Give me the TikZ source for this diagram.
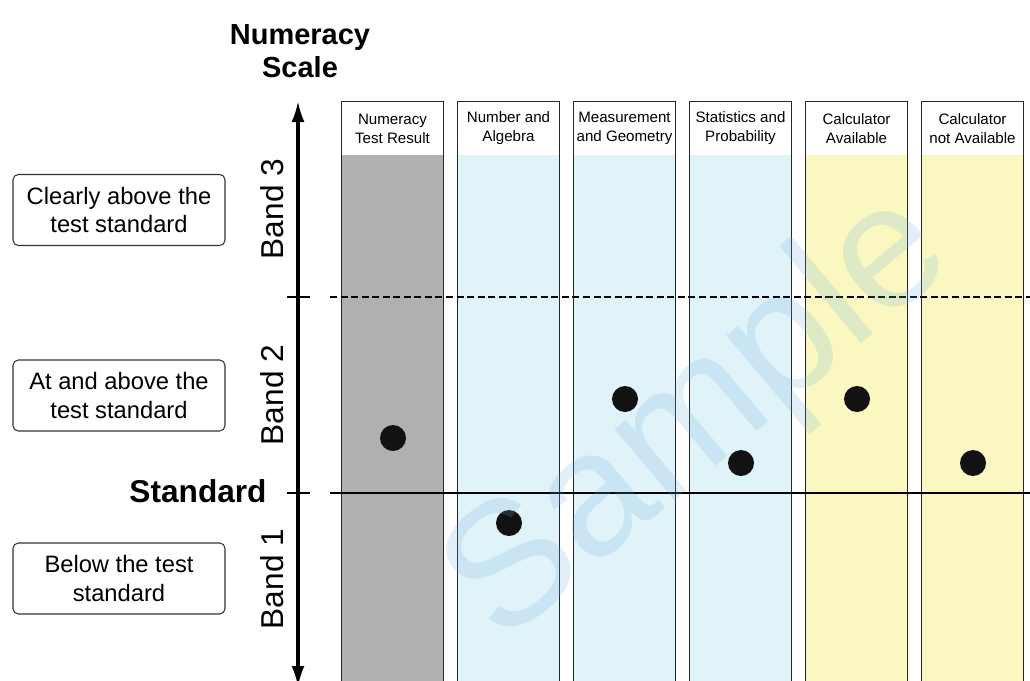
\documentclass[tikz,border=0pt]{standalone}
\usepackage{fontspec}
\setmainfont{Liberation Sans}
\usetikzlibrary{arrows.meta,positioning}

\definecolor{resultgray}{HTML}{B0B0B0}
\definecolor{strandblue}{HTML}{E0F3F8}
\definecolor{calcyellow}{HTML}{FAF8C0}
\definecolor{markblue}{RGB}{110,175,225}

\tikzstyle{header} = [
    rectangle,
    minimum width=2.02cm,
    minimum height=1.06cm,
    inner sep=0pt,
    align=center,
    fill=white,
    font=\fontsize{8.6}{10.8}\selectfont,
]
\tikzstyle{column} = [
    rectangle,
    minimum width=2.02cm,
    minimum height=10.6cm,
    inner sep=0pt,
]
\tikzstyle{outline} = [
    draw=black!85,
    line width=0.6pt
]
\tikzstyle{levelbox} = [
    rectangle,
    rounded corners=3pt,
    draw=black!80,
    line width=0.6pt,
    minimum width=4.24cm,
    minimum height=1.42cm,
    align=center,
    font=\fontsize{13.5}{16}\selectfont,
]
\tikzstyle{bandlabel} = [
    rotate=90,
    font=\fontsize{18}{20}\selectfont
]
\tikzstyle{dot} = [
    circle,
    fill=black!93,
    minimum size=0.52cm,
    inner sep=0pt
]
\tikzstyle{arrow} = [
    line width=1.8pt,
    {Latex[length=0.42cm,width=0.26cm]}-{Latex[length=0.42cm,width=0.26cm]}
]
\tikzstyle{tick} = [
    line width=1.2pt
]

\begin{document}
\begin{tikzpicture}[x=0.02cm, y=-0.02cm]
        \useasboundingbox (0,0) rectangle (1030,680);
        %% scale title and axis
        \node (title) [font=\bfseries\fontsize{16.5}{19}\selectfont, align=center] at (300,51) {Numeracy\\Scale};
        \coordinate (axistop) at (298,101);
        \coordinate (axisbot) at (298,687);
        \draw [arrow] (axisbot) -- (axistop);
        \coordinate (tick3l) at (287,297);
        \coordinate (tick3r) at (310,297);
        \coordinate (tick2l) at (287,493);
        \coordinate (tick2r) at (310,493);
        \draw [tick] (tick3l) -- (tick3r);
        \draw [tick] (tick2l) -- (tick2r);
        \node (std) [font=\bfseries\fontsize{18}{20}\selectfont] at (198,491) {Standard};
        \node (band3) [bandlabel] at (272,209) {Band 3};
        \node (band2) [bandlabel] at (272,395) {Band 2};
        \node (band1) [bandlabel] at (272,579) {Band 1};
        %% level descriptions
        \node (level3) [levelbox] at (119,210) {Clearly above the\\test standard};
        \node (level2) [levelbox] at (119,395.5) {At and above the\\test standard};
        \node (level1) [levelbox] at (119,578.5) {Below the test\\standard};
        %% columns
        \node (col1) [column, fill=resultgray] at (392.5,420) {};
        \node (col2) [column, fill=strandblue] at (508.5,420) {};
        \node (col3) [column, fill=strandblue] at (624.5,420) {};
        \node (col4) [column, fill=strandblue] at (740.5,420) {};
        \node (col5) [column, fill=calcyellow] at (856.5,420) {};
        \node (col6) [column, fill=calcyellow] at (972.5,420) {};
        \node (head1) [header] at (392.5,128.5) {Numeracy\\Test Result};
        \node (head2) [header] at (508.5,128.5) {Number and\\Algebra};
        \node (head3) [header] at (624.5,128.5) {Measurement\\and Geometry};
        \node (head4) [header] at (740.5,128.5) {Statistics and\\Probability};
        \node (head5) [header] at (856.5,128.5) {Calculator\\Available};
        \node (head6) [header] at (972.5,128.5) {Calculator\\not Available};
        \draw [outline] (head1.north west) rectangle (col1.south east);
        \draw [outline] (head2.north west) rectangle (col2.south east);
        \draw [outline] (head3.north west) rectangle (col3.south east);
        \draw [outline] (head4.north west) rectangle (col4.south east);
        \draw [outline] (head5.north west) rectangle (col5.south east);
        \draw [outline] (head6.north west) rectangle (col6.south east);
        %% band boundaries
        \coordinate (cutl) at (330,297);
        \coordinate (cutr) at (1032,297);
        \coordinate (stdl) at (330,493);
        \coordinate (stdr) at (1032,493);
        \draw [line width=1.1pt, dash pattern=on 4pt off 2pt] (cutl) -- (cutr);
        \draw [line width=1.1pt] (stdl) -- (stdr);
        %% results
        \node (dot1) [dot] at (393,438) {};
        \node (dot2) [dot] at (509,523) {};
        \node (dot3) [dot] at (625,399) {};
        \node (dot4) [dot] at (741,463) {};
        \node (dot5) [dot] at (857,399) {};
        \node (dot6) [dot] at (973,463) {};
        %% watermark
        \node (mark) [rotate=40, text=markblue, opacity=0.2, font=\fontsize{100}{110}\selectfont] at (700,420) {Sample};
    \end{tikzpicture}
\end{document}
